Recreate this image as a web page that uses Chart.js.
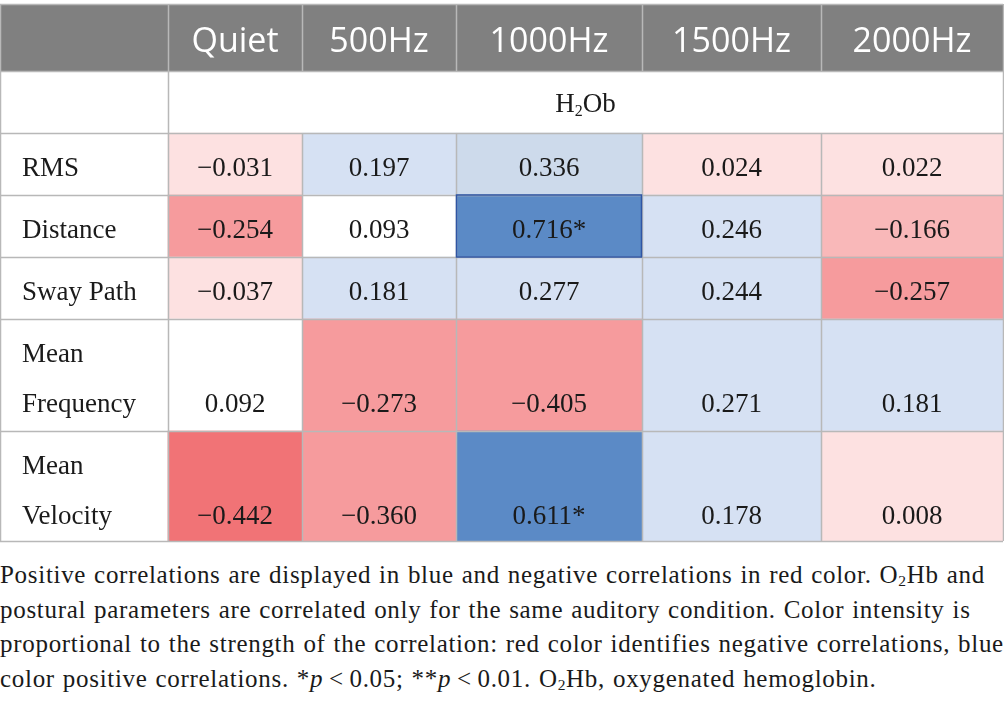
<!DOCTYPE html>
<html>
<head>
<meta charset="utf-8">
<script src="https://cdn.jsdelivr.net/npm/chart.js@4.4.1/dist/chart.umd.min.js"></script>
<style>
    html, body { margin: 0; padding: 0; background: #fff; }
    #wrap { position: relative; width: 1004px; height: 709px; overflow: hidden; }
    #table-chart { position: absolute; left: 0; top: 0; }
    #note {
        position: absolute; left: 0; top: 558px; width: 1004px;
        font-family: "Liberation Serif", "DejaVu Serif", serif;
        font-size: 25px; line-height: 34.5px; color: #1a1a1a;
        letter-spacing: 0.7px; word-spacing: 1px;
        white-space: nowrap;
    }
    #note sub { font-size: 0.62em; vertical-align: -0.2em; line-height: 0; }
</style>
</head>
<body>
<div id="wrap">
    <canvas id="table-chart" width="1004" height="545"></canvas>
    <div id="note">
        Positive correlations are displayed in blue and negative correlations in red color. O<sub>2</sub>Hb and<br>
        postural parameters are correlated only for the same auditory condition. Color intensity is<br>
        proportional to the strength of the correlation: red color identifies negative correlations, blue<br>
        color positive correlations. *<i>p</i>&thinsp;&lt;&thinsp;0.05; **<i>p</i>&thinsp;&lt;&thinsp;0.01. O<sub>2</sub>Hb, oxygenated hemoglobin.
    </div>
</div>
<script>
// Conditions (columns) and postural parameters (rows)
const conditions = ['Quiet', '500Hz', '1000Hz', '1500Hz', '2000Hz'];
const parameters = ['RMS', 'Distance', 'Sway Path', ['Mean', 'Frequency'], ['Mean', 'Velocity']];

// Correlation values, one array per condition (row order as parameters)
const quiet    = [-0.031, -0.254, -0.037,  0.092, -0.442];
const hz500    = [ 0.197,  0.093,  0.181, -0.273, -0.360];
const hz1000   = [ 0.336,  0.716,  0.277, -0.405,  0.611];
const hz1500   = [ 0.024,  0.246,  0.244,  0.271,  0.178];
const hz2000   = [ 0.022, -0.166, -0.257,  0.181,  0.008];

// Significance markers
const sigQuiet  = ['', '', '', '', ''];
const sig500    = ['', '', '', '', ''];
const sig1000   = ['', '*', '', '', '*'];
const sig1500   = ['', '', '', '', ''];
const sig2000   = ['', '', '', '', ''];

const columnValues = [quiet, hz500, hz1000, hz1500, hz2000];
const columnSig = [sigQuiet, sig500, sig1000, sig1500, sig2000];

// Table layout (canvas units, x scale 0..1004, y scale 0..545)
const colEdges = [0, 168, 302, 456, 642, 821, 1003];
const rowEdges = [4, 71, 133, 195, 257, 319, 431, 541];

const GRID = '#b8b8b8';
const SERIF = '"Liberation Serif", "DejaVu Serif", serif';
const SANS = '"Open Sans", Lato, sans-serif';

// Colour for a correlation value: blue positive, red negative
function cellColor(v) {
    if (v >= 0.5) return '#5b8ac6';
    if (v >= 0.3) return '#cddaeb';
    if (v >= 0.1) return '#d6e1f3';
    if (v >= 0.05) return '#ffffff';
    if (v > -0.1) return '#fde1e1';
    if (v > -0.2) return '#f9b8b9';
    if (v > -0.42) return '#f69b9d';
    return '#f17376';
}

function formatValue(v, sig) {
    return (v < 0 ? '\u2212' : '') + Math.abs(v).toFixed(3) + sig;
}

const maxValue = Math.max(...columnValues.flat());

// one floating-bar dataset per column; each bar spans one data row
const datasets = conditions.map((name, j) => {
    const x0 = colEdges[j + 1];
    const x1 = colEdges[j + 2];
    return {
        label: name,
        data: columnValues[j].map((v, i) => ({
            x: (x0 + x1) / 2,
            y: [rowEdges[i + 2], rowEdges[i + 3]],
            v: v
        })),
        barThickness: x1 - x0,
        grouped: false,
        borderSkipped: false,
        backgroundColor: ctx => cellColor(ctx.raw.v),
        borderWidth: 0
    };
});

// header band + grid lines + all text of the table
const tablePlugin = {
    id: 'tableText',
    beforeDatasetsDraw(chart) {
        const { ctx, scales: { x, y } } = chart;
        ctx.save();
        ctx.fillStyle = '#808080';
        ctx.fillRect(x.getPixelForValue(colEdges[0]), y.getPixelForValue(rowEdges[0]),
            x.getPixelForValue(colEdges[colEdges.length - 1]) - x.getPixelForValue(colEdges[0]),
            y.getPixelForValue(rowEdges[1]) - y.getPixelForValue(rowEdges[0]));
        ctx.restore();
    },
    afterDatasetsDraw(chart) {
        const { ctx, scales: { x, y } } = chart;
        const left = x.getPixelForValue(colEdges[0]);
        const right = x.getPixelForValue(colEdges[colEdges.length - 1]);
        const top = y.getPixelForValue(rowEdges[0]);
        const bottom = y.getPixelForValue(rowEdges[rowEdges.length - 1]);
        ctx.save();

        // horizontal lines
        ctx.strokeStyle = GRID;
        ctx.lineWidth = 1.5;
        rowEdges.forEach(r => {
            const py = Math.round(y.getPixelForValue(r)) + 0.5;
            ctx.beginPath();
            ctx.moveTo(left, py);
            ctx.lineTo(right, py);
            ctx.stroke();
        });
        // vertical lines
        colEdges.forEach((c, k) => {
            const px = Math.round(x.getPixelForValue(c)) + 0.5;
            ctx.beginPath();
            if (k >= 2 && k < colEdges.length - 1) {
                // the group row spans the value columns
                ctx.moveTo(px, top);
                ctx.lineTo(px, y.getPixelForValue(rowEdges[1]));
                ctx.moveTo(px, y.getPixelForValue(rowEdges[2]));
                ctx.lineTo(px, bottom);
            } else {
                ctx.moveTo(px, top);
                ctx.lineTo(px, bottom);
            }
            ctx.stroke();
        });

        // outline of the strongest correlation, on top of the grid
        chart.data.datasets.forEach((ds, j) => {
            ds.data.forEach((d, i) => {
                if (d.v === maxValue) {
                    const bar = chart.getDatasetMeta(j).data[i];
                    ctx.strokeStyle = '#2f55a4';
                    ctx.lineWidth = 1.5;
                    ctx.strokeRect(bar.x - bar.width / 2 + 0.5, bar.y, bar.width - 1, bar.base - bar.y);
                }
            });
        });

        // header labels
        ctx.fillStyle = '#ffffff';
        ctx.font = '34px ' + SANS;
        ctx.textAlign = 'center';
        ctx.textBaseline = 'alphabetic';
        conditions.forEach((name, j) => {
            const cx = x.getPixelForValue((colEdges[j + 1] + colEdges[j + 2]) / 2);
            ctx.fillText(name, cx, y.getPixelForValue(rowEdges[0] + 48));
        });

        // group label H2Ob with subscript
        ctx.fillStyle = '#1a1a1a';
        const gx = x.getPixelForValue((colEdges[1] + colEdges[colEdges.length - 1]) / 2);
        const gy = y.getPixelForValue(rowEdges[1] + 41);
        ctx.font = '27px ' + SERIF;
        const wH = ctx.measureText('H').width;
        const wOb = ctx.measureText('Ob').width;
        ctx.font = '16px ' + SERIF;
        const w2 = ctx.measureText('2').width;
        const sx = gx - (wH + w2 + wOb) / 2;
        ctx.textAlign = 'left';
        ctx.font = '27px ' + SERIF;
        ctx.fillText('H', sx, gy);
        ctx.font = '16px ' + SERIF;
        ctx.fillText('2', sx + wH, gy + 4);
        ctx.font = '27px ' + SERIF;
        ctx.fillText('Ob', sx + wH + w2, gy);

        // row labels and values
        parameters.forEach((label, i) => {
            const rowTop = rowEdges[i + 2];
            const lines = Array.isArray(label) ? label : [label];
            ctx.font = '27px ' + SERIF;
            ctx.textAlign = 'left';
            ctx.fillStyle = '#1a1a1a';
            lines.forEach((t, k) => {
                ctx.fillText(t, x.getPixelForValue(22), y.getPixelForValue(rowTop + 43 + k * 50));
            });
            const vy = y.getPixelForValue(rowTop + 43 + (lines.length - 1) * 50);
            ctx.textAlign = 'center';
            columnValues.forEach((vals, j) => {
                const cx = x.getPixelForValue((colEdges[j + 1] + colEdges[j + 2]) / 2);
                ctx.fillText(formatValue(vals[i], columnSig[j][i]), cx, vy);
            });
        });
        ctx.restore();
    }
};

const chart = new Chart(document.getElementById('table-chart').getContext('2d'), {
    type: 'bar',
    data: { datasets: datasets },
    options: {
        responsive: false,
        animation: false,
        events: [],
        layout: { padding: 0 },
        plugins: {
            legend: { display: false },
            tooltip: { enabled: false },
            title: { display: false }
        },
        scales: {
            x: { type: 'linear', min: 0, max: 1004, offset: false, display: false },
            y: { type: 'linear', min: 0, max: 545, reverse: true, display: false }
        }
    },
    plugins: [tablePlugin]
});
</script>
</body>
</html>
